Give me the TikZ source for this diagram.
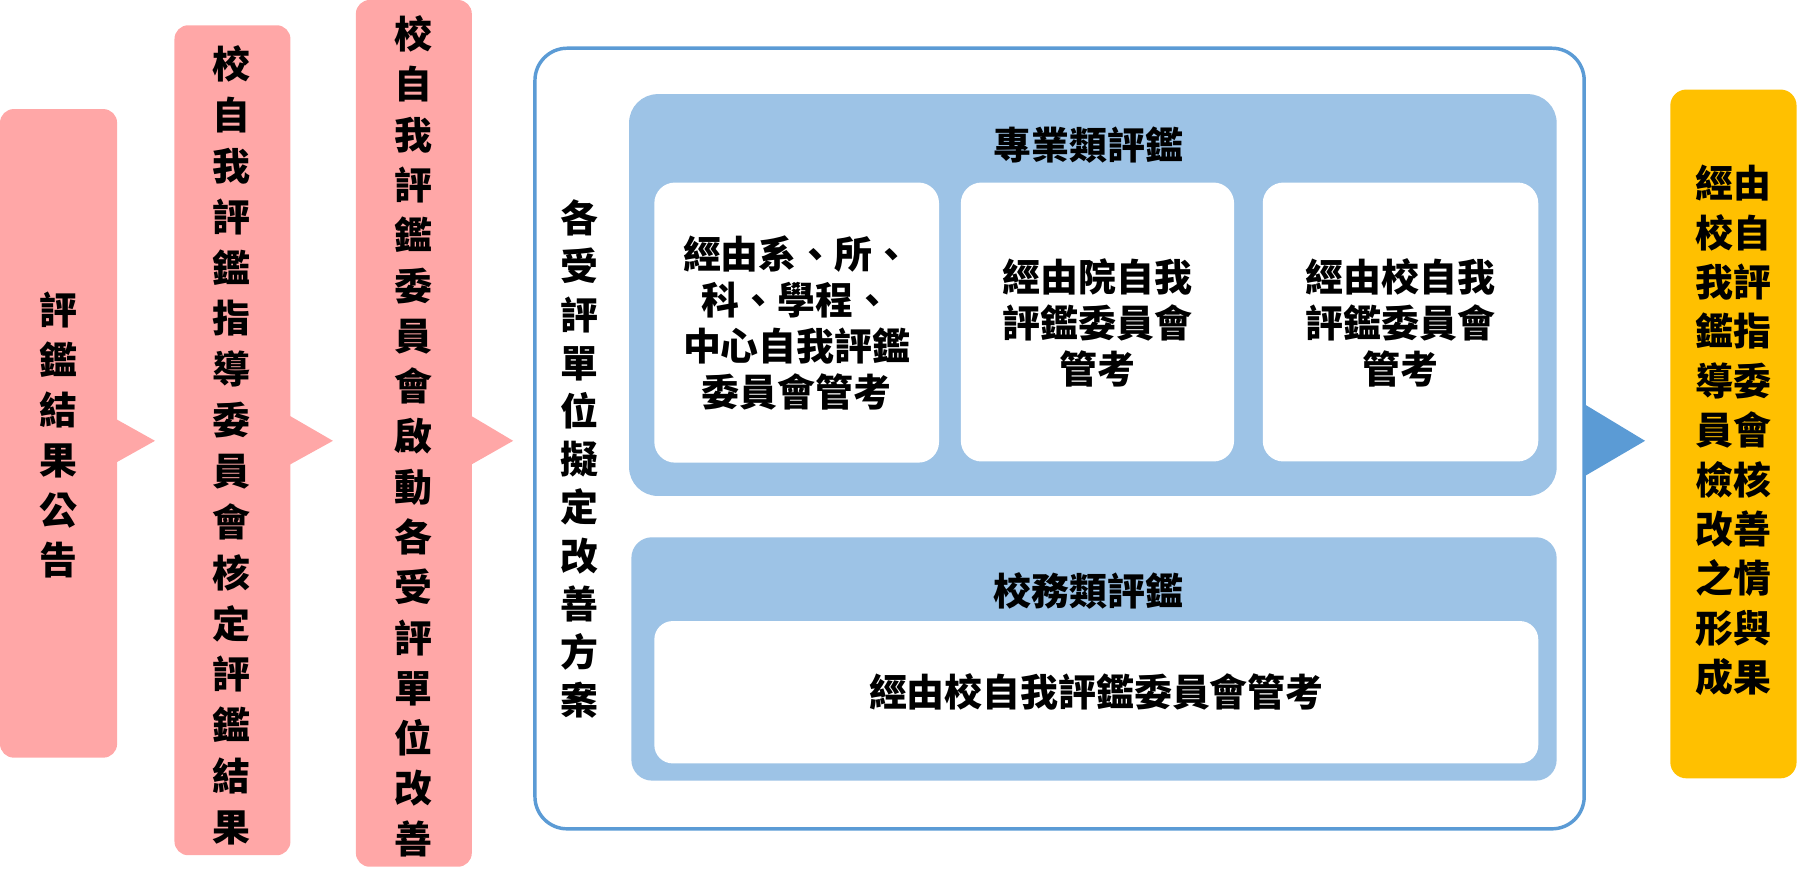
\documentclass[tikz,border=0pt]{standalone}
\usepackage{fontspec}
\setmainfont{Noto Sans CJK TC}
\definecolor{pinkc}{HTML}{FFA7A7}
\definecolor{bluec}{HTML}{9DC3E6}
\definecolor{bordc}{HTML}{5B9BD5}
\definecolor{orc}{HTML}{FFC000}
\begin{document}
\begin{tikzpicture}[x=1pt,y=-1pt,
  txt/.style={font=\fontsize{33}{40}\selectfont\bfseries,align=center,inner sep=0},
  vt/.style={txt,font=\fontsize{33}{#1}\selectfont\bfseries}]
\useasboundingbox (0,0) rectangle (1568,766);
% pink boxes with pointers
\fill[pinkc,rounded corners=12] (0,95) rectangle (102,660);
\fill[pinkc] (101,365) -- (135,384) -- (101,403) -- cycle;
\fill[pinkc,rounded corners=12] (152,22) rectangle (253,745);
\fill[pinkc] (252,362) -- (290,384) -- (252,405) -- cycle;
\fill[pinkc,rounded corners=12] (310,0) rectangle (411,755);
\fill[pinkc] (410,362) -- (447,384) -- (410,405) -- cycle;
\node[vt=43.6] (b1) at (51,379) {評\\鑑\\結\\果\\公\\告};
\node[vt=44.3] (b2) at (202,388) {校\\自\\我\\評\\鑑\\指\\導\\委\\員\\會\\核\\定\\評\\鑑\\結\\果};
\node[vt=43.8] (b3) at (360,380) {校\\自\\我\\評\\鑑\\委\\員\\會\\啟\\動\\各\\受\\評\\單\\位\\改\\善};
% big box
\draw[bordc,line width=3,fill=white,rounded corners=28] (466,42) rectangle (1380,722);
\fill[bordc] (1380,352) -- (1433,384) -- (1380,415) -- cycle;
\node[vt=42] (v) at (505,400) {各\\受\\評\\單\\位\\擬\\定\\改\\善\\方\\案};
% panel 1
\fill[bluec,rounded corners=25] (548,82) rectangle (1356,432);
\node[txt] (t1) at (948,126) {專業類評鑑};
\fill[white,rounded corners=18] (570,159) rectangle (818,403);
\fill[white,rounded corners=18] (837,159) rectangle (1075,402);
\fill[white,rounded corners=18] (1100,159) rectangle (1340,402);
\node[txt] (s1) at (694,281) {經由系、所、\\科、學程、\\中心自我評鑑\\委員會管考};
\node[txt] (s2) at (956,281) {經由院自我\\評鑑委員會\\管考};
\node[txt] (s3) at (1220,281) {經由校自我\\評鑑委員會\\管考};
% panel 2
\fill[bluec,rounded corners=18] (550,468) rectangle (1356,680);
\node[txt] (t2) at (948,515) {校務類評鑑};
\fill[white,rounded corners=16] (570,541) rectangle (1340,665);
\node[txt] (s4) at (955,603) {經由校自我評鑑委員會管考};
% orange
\fill[orc,rounded corners=14] (1455,78) rectangle (1565,678);
\node[vt=43] (o) at (1510,375) {經由\\校自\\我評\\鑑指\\導委\\員會\\檢核\\改善\\之情\\形與\\成果};
\end{tikzpicture}
\end{document}
